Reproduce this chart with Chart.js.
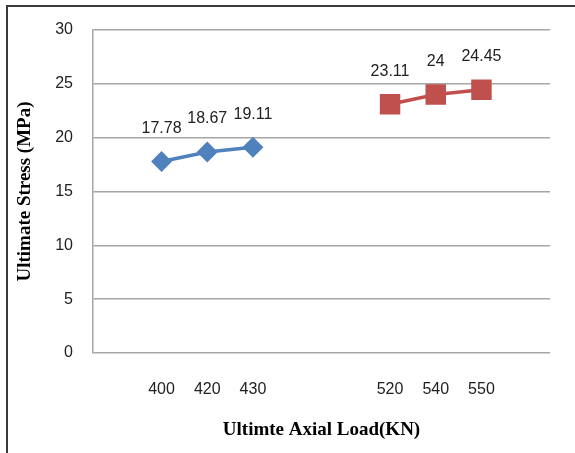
<!DOCTYPE html>
<html>
<head>
<meta charset="utf-8">
<script src="https://cdn.jsdelivr.net/npm/chart.js@4/dist/chart.umd.min.js"></script>
<style>
    body { margin: 0; background: #fff; }
    #wrap { position: relative; width: 575px; height: 453px; }
    #frame {
        position: absolute; left: 6px; top: 5px; width: 569px; height: 448px;
        border-top: 2px solid #3a3a3a; border-left: 2px solid #3a3a3a;
        pointer-events: none;
    }
</style>
</head>
<body>
<div id="wrap">
    <canvas id="chart" width="575" height="453"></canvas>
    <div id="frame"></div>
</div>
<script>
// Data (blank categories keep the gaps the original axis has)
const loadLabels = ['', '400', '420', '430', '', '', '520', '540', '550', ''];
const firstGroup = [null, 17.78, 18.67, 19.11, null, null, null, null, null, null];
const secondGroup = [null, null, null, null, null, null, 23.11, 24, 24.45, null];
const stressTicks = [0, 5, 10, 15, 20, 25, 30];

const blue = '#4F81BD';
const red = '#C0504D';

// Draw the value above each point
const valueLabels = {
    id: 'valueLabels',
    afterDatasetsDraw(chart) {
        const ctx = chart.ctx;
        ctx.save();
        ctx.font = '16px "Liberation Sans", Arial, sans-serif';
        ctx.fillStyle = '#222';
        ctx.textAlign = 'center';
        ctx.textBaseline = 'middle';
        chart.data.datasets.forEach((ds, i) => {
            const meta = chart.getDatasetMeta(i);
            meta.data.forEach((pt, j) => {
                const v = ds.data[j];
                if (v === null) return;
                ctx.fillText(String(v), pt.x, pt.y - 33);
            });
        });
        ctx.restore();
    }
};

const chart = new Chart(document.getElementById('chart'), {
    type: 'line',
    data: {
        labels: loadLabels,
        datasets: [{
            data: firstGroup,
            borderColor: blue,
            backgroundColor: blue,
            borderWidth: 3.5,
            pointStyle: 'rectRot',
            pointRadius: 8,
            pointHoverRadius: 8,
            tension: 0
        }, {
            data: secondGroup,
            borderColor: red,
            backgroundColor: red,
            borderWidth: 3.5,
            pointStyle: 'rect',
            pointRadius: 12,
            pointHoverRadius: 12,
            tension: 0
        }]
    },
    options: {
        responsive: false,
        animation: false,
        layout: { padding: { top: 30, right: 25, left: 0, bottom: 0 } },
        plugins: {
            legend: { display: false },
            tooltip: { enabled: false }
        },
        scales: {
            x: {
                offset: true,
                grid: { display: false, drawTicks: false },
                border: { display: false },
                ticks: {
                    color: '#222',
                    padding: 27,
                    maxRotation: 0,
                    autoSkip: false,
                    font: { family: '"Liberation Sans", Arial, sans-serif', size: 16 }
                },
                title: {
                    display: true,
                    text: 'Ultimte Axial Load(KN)',
                    color: '#000',
                    padding: { top: 0, bottom: 12 },
                    font: { family: '"Liberation Serif", "Times New Roman", serif', size: 19, weight: 'bold' }
                },
                afterFit(scale) { scale.height = 100; }
            },
            y: {
                min: stressTicks[0],
                max: stressTicks[stressTicks.length - 1],
                grid: { color: '#a6a6a6', lineWidth: 1.5, drawTicks: false },
                border: { color: '#a6a6a6', width: 1.5 },
                afterBuildTicks(scale) {
                    scale.ticks = stressTicks.map(v => ({ value: v }));
                },
                ticks: {
                    color: '#222',
                    padding: 20,
                    font: { family: '"Liberation Sans", Arial, sans-serif', size: 16 }
                },
                title: {
                    display: true,
                    text: 'Ultimate Stress (MPa)',
                    color: '#000',
                    padding: { top: 14, bottom: 0 },
                    font: { family: '"Liberation Serif", "Times New Roman", serif', size: 19, weight: 'bold' }
                },
                afterFit(scale) { scale.width = 93; }
            }
        }
    },
    plugins: [valueLabels]
});
</script>
</body>
</html>
